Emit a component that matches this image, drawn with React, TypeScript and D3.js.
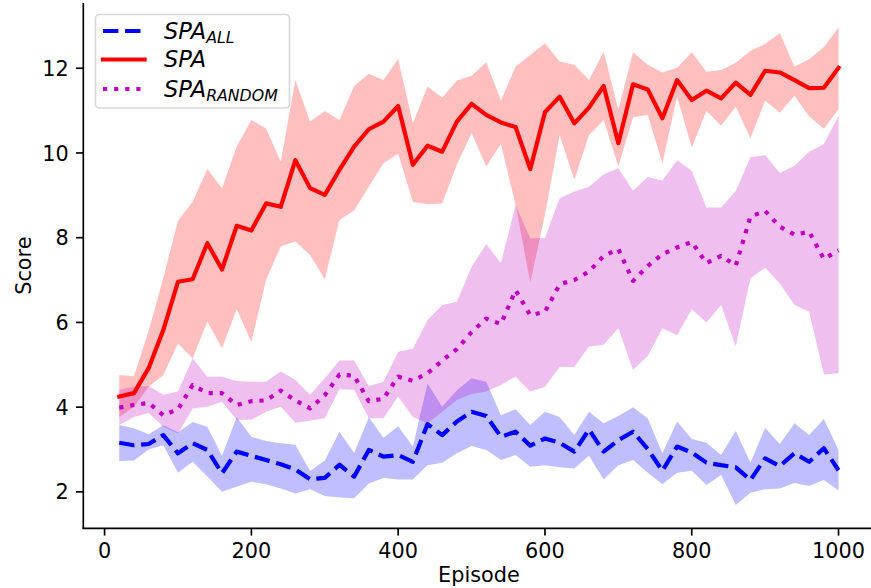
import React, { useEffect, useRef } from 'react';
import * as d3 from 'd3';

const episodes = [20, 40, 60, 80, 100, 120, 140, 160, 180, 200, 220, 240, 260, 280, 300, 320, 340, 360, 380, 400,
  420, 440, 460, 480, 500, 520, 540, 560, 580, 600, 620, 640, 660, 680, 700, 720, 740, 760, 780, 800,
  820, 840, 860, 880, 900, 920, 940, 960, 980, 1000];

// SPA_ALL (blue, dashed)
const allMean = [3.16, 3.1, 3.13, 3.34, 2.91, 3.15, 2.99, 2.44, 2.95, 2.85, 2.75, 2.65, 2.53, 2.3, 2.33, 2.64, 2.36, 2.99, 2.83, 2.87,
  2.71, 3.6, 3.34, 3.66, 3.89, 3.79, 3.3, 3.42, 3.09, 3.26, 3.16, 2.95, 3.47, 2.95, 3.22, 3.42, 3.01, 2.5, 3.07, 2.93,
  2.69, 2.63, 2.58, 2.28, 2.79, 2.61, 2.91, 2.71, 3.03, 2.51];
const allUpper = [3.58, 3.5, 3.36, 3.57, 3.41, 3.65, 3.54, 2.85, 3.77, 3.3, 3.2, 3.15, 3.11, 2.49, 2.74, 3.42, 2.92, 3.76, 3.28, 3.55,
  3.07, 4.56, 4.01, 4.4, 4.68, 4.6, 3.81, 3.95, 3.58, 3.89, 3.77, 3.34, 3.89, 3.62, 3.79, 4.0, 3.74, 2.91, 3.66, 3.25,
  3.16, 2.87, 3.44, 2.69, 3.51, 3.13, 3.62, 3.34, 3.72, 2.99];
const allLower = [2.73, 2.74, 3.0, 3.1, 2.45, 2.71, 2.36, 2.0, 2.12, 2.24, 2.18, 2.08, 1.96, 2.06, 1.9, 1.87, 1.85, 2.2, 2.33, 2.29,
  2.29, 2.63, 2.69, 2.91, 3.08, 2.99, 2.75, 2.87, 2.59, 2.63, 2.58, 2.55, 2.85, 2.29, 2.63, 2.75, 2.45, 2.18, 2.45, 2.5,
  2.16, 2.4, 1.69, 1.98, 2.06, 2.08, 2.21, 2.14, 2.28, 2.03];

// SPA (red, solid)
const spaMean = [4.25, 4.33, 4.92, 5.82, 6.96, 7.02, 7.87, 7.25, 8.28, 8.17, 8.81, 8.73, 9.83, 9.17, 9.01, 9.6, 10.15, 10.56, 10.74, 11.11,
  9.72, 10.17, 10.03, 10.74, 11.16, 10.9, 10.72, 10.61, 9.62, 10.96, 11.33, 10.7, 11.07, 11.58, 10.23, 11.62, 11.5, 10.82, 11.72, 11.25,
  11.47, 11.29, 11.66, 11.37, 11.94, 11.9, 11.72, 11.53, 11.54, 12.01];
const spaUpper = [4.76, 4.73, 5.8, 7.05, 8.4, 8.85, 9.62, 9.17, 10.15, 10.78, 10.58, 9.8, 11.72, 10.74, 10.99, 10.78, 11.58, 11.87, 11.72, 12.22,
  10.7, 11.57, 11.31, 11.71, 11.82, 12.14, 11.24, 12.04, 12.31, 12.59, 12.16, 12.08, 11.72, 12.39, 11.02, 12.38, 12.08, 11.9, 12.01, 12.38,
  11.92, 11.96, 12.13, 12.41, 12.57, 12.83, 12.04, 12.21, 12.5, 12.96];
const spaLower = [3.77, 4.01, 4.48, 4.75, 5.5, 5.15, 6.02, 5.39, 6.31, 5.54, 7.0, 7.79, 7.91, 7.59, 7.02, 8.42, 8.64, 9.2, 9.76, 9.98,
  8.84, 8.79, 8.81, 9.72, 10.47, 9.68, 10.21, 8.77, 6.94, 8.54, 10.42, 9.36, 10.42, 10.78, 9.68, 10.84, 10.9, 9.76, 11.33, 10.13,
  10.99, 10.64, 11.09, 10.35, 11.23, 10.95, 11.35, 10.86, 10.57, 11.03];

// SPA_RANDOM (magenta, dotted)
const rndMean = [3.99, 4.05, 4.1, 3.81, 3.95, 4.52, 4.33, 4.33, 4.05, 4.14, 4.16, 4.39, 4.16, 3.97, 4.28, 4.77, 4.74, 4.14, 4.2, 4.72,
  4.62, 4.8, 5.1, 5.37, 5.77, 6.09, 5.96, 6.76, 6.17, 6.25, 6.9, 7.0, 7.2, 7.57, 7.73, 6.98, 7.33, 7.61, 7.77, 7.9,
  7.4, 7.57, 7.34, 8.5, 8.63, 8.26, 8.07, 8.14, 7.5, 7.7];
const rndUpper = [4.41, 4.48, 4.5, 4.29, 4.37, 5.15, 4.72, 4.72, 4.62, 4.6, 4.6, 4.85, 4.64, 4.29, 4.68, 5.1, 5.1, 4.5, 4.6, 5.31,
  5.38, 6.06, 6.41, 6.49, 7.31, 7.85, 7.4, 8.77, 7.98, 8.0, 8.93, 9.09, 9.2, 9.5, 9.64, 9.11, 9.43, 9.35, 9.83, 9.58,
  8.71, 8.71, 9.1, 9.9, 9.95, 9.53, 9.7, 10.03, 10.21, 10.87];
const rndLower = [3.58, 3.77, 3.86, 3.54, 3.38, 3.97, 4.01, 4.13, 3.7, 3.7, 3.89, 4.01, 3.63, 3.68, 3.74, 4.42, 4.41, 3.74, 3.74, 4.25,
  3.77, 3.62, 3.89, 4.17, 4.31, 4.37, 4.52, 4.72, 4.37, 4.48, 4.95, 4.95, 5.43, 5.47, 5.86, 4.88, 5.21, 5.86, 5.7, 6.31,
  6.0, 6.41, 5.43, 7.04, 7.29, 6.92, 6.41, 6.25, 4.77, 4.8];

const xTicks = [0, 200, 400, 600, 800, 1000];
const yTicks = [2, 4, 6, 8, 10, 12];

const series = [
  { name: 'SPA', sub: 'ALL', color: '#0000ff', mean: allMean, upper: allUpper, lower: allLower, dash: '15.4,6.7' },
  { name: 'SPA', sub: '', color: '#ff0000', mean: spaMean, upper: spaUpper, lower: spaLower, dash: null },
  { name: 'SPA', sub: 'RANDOM', color: '#bf00bf', mean: rndMean, upper: rndUpper, lower: rndLower, dash: '4.2,6.9' },
];

const W = 871;
const H = 588;
const FONT = 'DejaVu Sans, sans-serif';
const FS = 20.8;
const LFS = 22.5; // mathtext legend labels come out a bit wider

export default function App() {
  const svgRef = useRef<SVGSVGElement>(null);

  useEffect(() => {
    const svg = d3.select(svgRef.current);
    svg.selectAll('*').remove();

    const left = 83.3, right = 874.5, top = 3, bottom = 528.3;
    const x = d3.scaleLinear().domain([-29, 1049]).range([left, right]);
    const y = d3.scaleLinear().domain([1.14, 13.54]).range([bottom, top]);

    const plot = svg.append('g');

    // bands first, so lines sit on top of every fill
    series.forEach(s => {
      const area = d3.area<number>()
        .x((d, i) => x(episodes[i]))
        .y0((d, i) => y(s.lower[i]))
        .y1((d, i) => y(s.upper[i]));
      plot.append('path')
        .attr('d', area(s.mean))
        .attr('fill', s.color)
        .attr('fill-opacity', 0.25);
    });

    series.forEach(s => {
      const line = d3.line<number>()
        .x((d, i) => x(episodes[i]))
        .y(d => y(d));
      const p = plot.append('path')
        .attr('d', line(s.mean))
        .attr('fill', 'none')
        .attr('stroke', s.color)
        .attr('stroke-width', 4.2)
        .attr('stroke-linejoin', 'round');
      if (s.dash) p.attr('stroke-dasharray', s.dash).attr('stroke-linecap', 'butt');
      else p.attr('stroke-linecap', 'square');
    });

    // spines
    svg.append('line').attr('x1', left).attr('x2', left).attr('y1', top).attr('y2', bottom + 0.8)
      .attr('stroke', 'black').attr('stroke-width', 1.67);
    svg.append('line').attr('x1', left - 0.8).attr('x2', W).attr('y1', bottom).attr('y2', bottom)
      .attr('stroke', 'black').attr('stroke-width', 1.67);

    // x ticks
    xTicks.forEach(t => {
      svg.append('line').attr('x1', x(t)).attr('x2', x(t)).attr('y1', bottom).attr('y2', bottom + 7.3)
        .attr('stroke', 'black').attr('stroke-width', 1.67);
      svg.append('text').attr('x', x(t)).attr('y', 558)
        .attr('text-anchor', 'middle').attr('font-family', FONT).attr('font-size', FS)
        .text(t);
    });

    // y ticks
    yTicks.forEach(t => {
      svg.append('line').attr('x1', left - 7.3).attr('x2', left).attr('y1', y(t)).attr('y2', y(t))
        .attr('stroke', 'black').attr('stroke-width', 1.67);
      svg.append('text').attr('x', left - 14.6).attr('y', y(t) + 7.6)
        .attr('text-anchor', 'end').attr('font-family', FONT).attr('font-size', FS)
        .text(t);
    });

    svg.append('text').attr('x', (left + right) / 2).attr('y', 582)
      .attr('text-anchor', 'middle').attr('font-family', FONT).attr('font-size', FS)
      .text('Episode');
    svg.append('text').attr('transform', `translate(31,${(top + bottom) / 2}) rotate(-90)`)
      .attr('text-anchor', 'middle').attr('font-family', FONT).attr('font-size', FS)
      .text('Score');

    // legend
    const lg = svg.append('g');
    lg.append('rect').attr('x', 95.5).attr('y', 14.5).attr('width', 194).attr('height', 93.5)
      .attr('rx', 4).attr('fill', 'white').attr('fill-opacity', 0.8)
      .attr('stroke', '#cccccc').attr('stroke-opacity', 0.8).attr('stroke-width', 1.6);
    const rowY = [31, 59.5, 89];
    series.forEach((s, i) => {
      const h = lg.append('line').attr('x1', 103).attr('x2', 144.6).attr('y1', rowY[i]).attr('y2', rowY[i])
        .attr('stroke', s.color).attr('stroke-width', 4.2);
      if (s.dash) h.attr('stroke-dasharray', s.dash);
      else h.attr('stroke-linecap', 'square');
      const t = lg.append('text').attr('x', 164).attr('y', rowY[i] + 7.8)
        .attr('font-family', FONT).attr('font-size', LFS).attr('font-style', 'italic');
      t.append('tspan').text(s.name);
      if (s.sub) {
        t.append('tspan').attr('dy', 4.5).attr('font-size', LFS * 0.7).text(s.sub);
      }
    });
  }, []);

  return (
    <svg ref={svgRef} width={W} height={H}
      style={{ position: 'absolute', left: 0, top: 0, background: 'white' }} />
  );
}
